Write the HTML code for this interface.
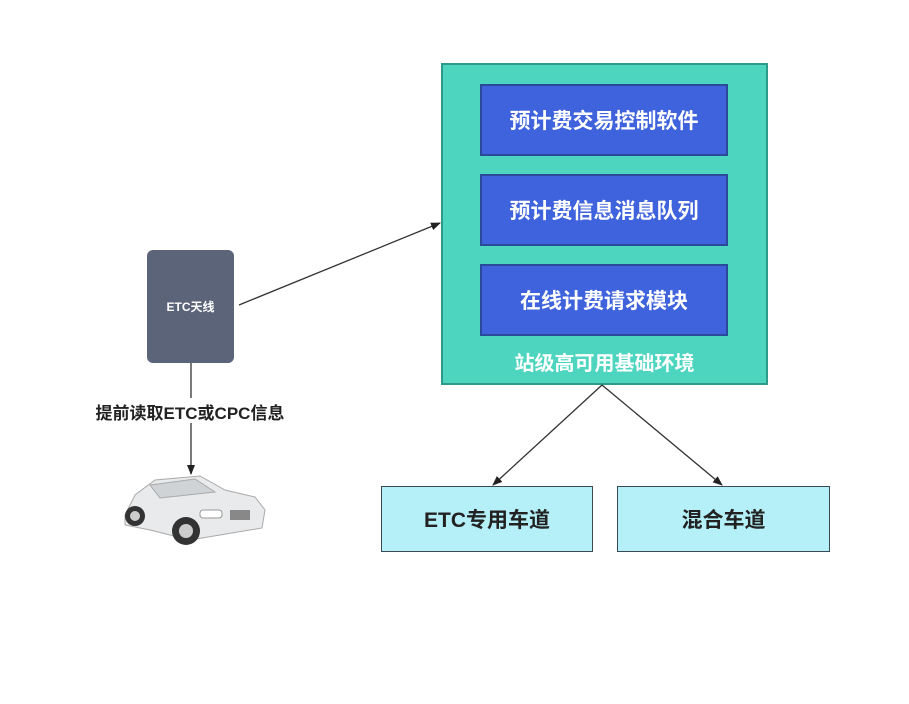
<!DOCTYPE html><html><head><meta charset="utf-8"><style>
body{margin:0;width:909px;height:704px;background:#fff;position:relative;overflow:hidden;font-family:"Liberation Sans","Noto Sans CJK SC",sans-serif}
.a{position:absolute;box-sizing:border-box;display:flex;align-items:center;justify-content:center;font-weight:bold}
.in{background:#3f63dc;border:2px solid #2c4a9a;color:#fff;font-size:21px;left:480px;width:248px;height:72px}
.ln{background:#b5eff8;border:1.5px solid #3a4a55;color:#222;font-size:21px;top:486px;height:66px}
</style></head><body>
<div class="a" style="left:441px;top:63px;width:327px;height:322px;background:#4dd5c0;border:2px solid #2e9a8a"></div>
<div class="a in" style="top:84px">预计费交易控制软件</div>
<div class="a in" style="top:174px">预计费信息消息队列</div>
<div class="a in" style="top:264px">在线计费请求模块</div>
<div class="a" style="left:441px;top:345px;width:327px;height:32px;color:#fff;font-size:20px">站级高可用基础环境</div>
<div class="a ln" style="left:381px;width:212px">ETC专用车道</div>
<div class="a ln" style="left:617px;width:213px">混合车道</div>
<div class="a" style="left:147px;top:250px;width:87px;height:113px;background:#5b6479;border-radius:6px;color:#fff;font-size:12px">ETC天线</div>
<svg width="909" height="704" style="position:absolute;left:0;top:0">
<defs><marker id="m" markerWidth="10" markerHeight="8" refX="9" refY="4" orient="auto" markerUnits="userSpaceOnUse"><path d="M0,0L10,4L0,8z" fill="#222"/></marker></defs>
<g stroke="#333" stroke-width="1.3" fill="none">
<line x1="239" y1="305" x2="440" y2="223" marker-end="url(#m)"/>
<line x1="191" y1="363" x2="191" y2="398"/>
<line x1="191" y1="423" x2="191" y2="474" marker-end="url(#m)"/>
<line x1="602" y1="385" x2="493" y2="485" marker-end="url(#m)"/>
<line x1="602" y1="385" x2="722" y2="485" marker-end="url(#m)"/>
</g>
<g>
<path d="M125,515 L135,495 L155,480 L200,476 L225,490 L255,497 L265,510 L262,528 L220,535 L190,540 L150,530 L125,525 Z" fill="#e8eaec" stroke="#aaa"/>
<path d="M150,485 L195,479 L215,492 L160,498 Z" fill="#cfd3d6" stroke="#aaa"/>
<circle cx="135" cy="516" r="10" fill="#333"/><circle cx="186" cy="531" r="14" fill="#333"/>
<circle cx="135" cy="516" r="5" fill="#ccc"/><circle cx="186" cy="531" r="7" fill="#ccc"/>
<rect x="200" y="510" width="22" height="8" rx="3" fill="#fff" stroke="#999"/>
<rect x="230" y="510" width="20" height="10" fill="#888"/>
</g>
</svg>
<div class="a" style="left:70px;top:398px;width:240px;height:26px;font-size:17px;color:#222">提前读取ETC或CPC信息</div>
</body></html>
